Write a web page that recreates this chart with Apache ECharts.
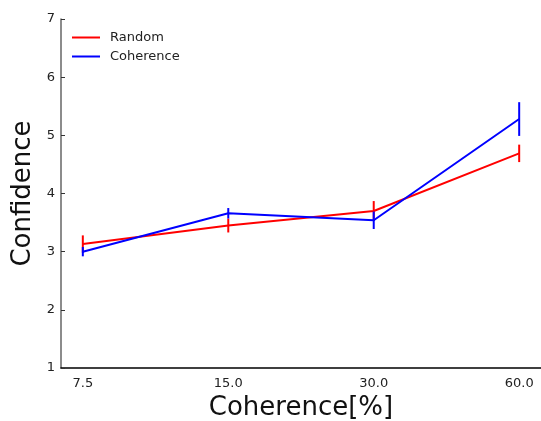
<!DOCTYPE html>
<html><head><meta charset="utf-8">
<script src="https://cdn.jsdelivr.net/npm/echarts@6/dist/echarts.min.js"></script>
<style>html,body{margin:0;padding:0;background:#fff}#c{width:541px;height:421px}</style>
</head><body><div id="c"></div>
<script>
const categories = ['7.5', '15.0', '30.0', '60.0'];
const randomMean = [3.13, 3.45, 3.70, 4.69];
const randomErr = [0.15, 0.12, 0.17, 0.15];
const coherenceMean = [3.00, 3.66, 3.54, 5.28];
const coherenceErr = [0.08, 0.09, 0.15, 0.29];
const yTicks = [1, 2, 3, 4, 5, 6, 7];

const chart = echarts.init(document.getElementById('c'));
function errSeries(name, mean, err, color) {
  return {
    name: name, type: 'custom', z: 5,
    data: mean.map((m, i) => [i, m - err[i], m + err[i]]),
    renderItem: function (params, api) {
      const lo = api.coord([api.value(0), api.value(1)]);
      const hi = api.coord([api.value(0), api.value(2)]);
      return { type: 'line', shape: { x1: lo[0], y1: lo[1], x2: hi[0], y2: hi[1] },
        style: { stroke: color, lineWidth: 2 } };
    },
    silent: true
  };
}
chart.setOption({
  animation: false,
  textStyle: { fontFamily: 'DejaVu Sans' },
  grid: { left: 61, right: 0, top: 19, bottom: 53, outerBoundsMode: 'none', containLabel: false },
  legend: {
    orient: 'vertical', left: 67, top: 26, itemGap: 6,
    itemWidth: 28, itemHeight: 14,
    textStyle: { fontSize: 13, color: '#222', padding: [0, 0, 0, 5] },
    data: [{ name: 'Random', icon: 'path://M0,0 L28,0 L28,2 L0,2 Z' }, { name: 'Coherence', icon: 'path://M0,0 L28,0 L28,2 L0,2 Z' }]
  },
  xAxis: {
    type: 'value', min: -0.15, max: 3.15, interval: 0.05,
    name: 'Coherence[%]', nameLocation: 'middle', nameGap: 26,
    nameTextStyle: { fontSize: 26, color: '#111' },
    axisLine: { onZero: false, lineStyle: { color: '#000', width: 1.5 } },
    axisTick: { show: false },
    splitLine: { show: false },
    axisLabel: { fontSize: 13, color: '#222', margin: 9, showMinLabel: false, showMaxLabel: false,
      formatter: v => { const i = Math.round(v); return (Math.abs(v - i) < 1e-3 && i >= 0 && i < categories.length) ? categories[i] : ''; } }
  },
  yAxis: {
    type: 'value', min: 1, max: 7, interval: 1,
    name: 'Confidence', nameLocation: 'middle', nameGap: 19,
    nameTextStyle: { fontSize: 26, color: '#111' },
    axisLine: { show: true, onZero: false, lineStyle: { color: '#666', width: 1.5 } },
    axisTick: { show: true, inside: true, length: 4, lineStyle: { color: '#333' } },
    splitLine: { show: false },
    axisLabel: { fontSize: 13, color: '#222', margin: 6, formatter: v => yTicks.includes(v) ? String(v) : '' }
  },
  series: [
    { name: 'Random', type: 'line', data: randomMean.map((m, i) => [i, m]), symbol: 'none',
      lineStyle: { color: '#ff0000', width: 2 }, itemStyle: { color: '#ff0000' }, z: 3 },
    errSeries('RandomErr', randomMean, randomErr, '#ff0000'),
    { name: 'Coherence', type: 'line', data: coherenceMean.map((m, i) => [i, m]), symbol: 'none',
      lineStyle: { color: '#0000ff', width: 2 }, itemStyle: { color: '#0000ff' }, z: 6 },
    errSeries('CoherenceErr', coherenceMean, coherenceErr, '#0000ff')
  ]
});
</script></body></html>
